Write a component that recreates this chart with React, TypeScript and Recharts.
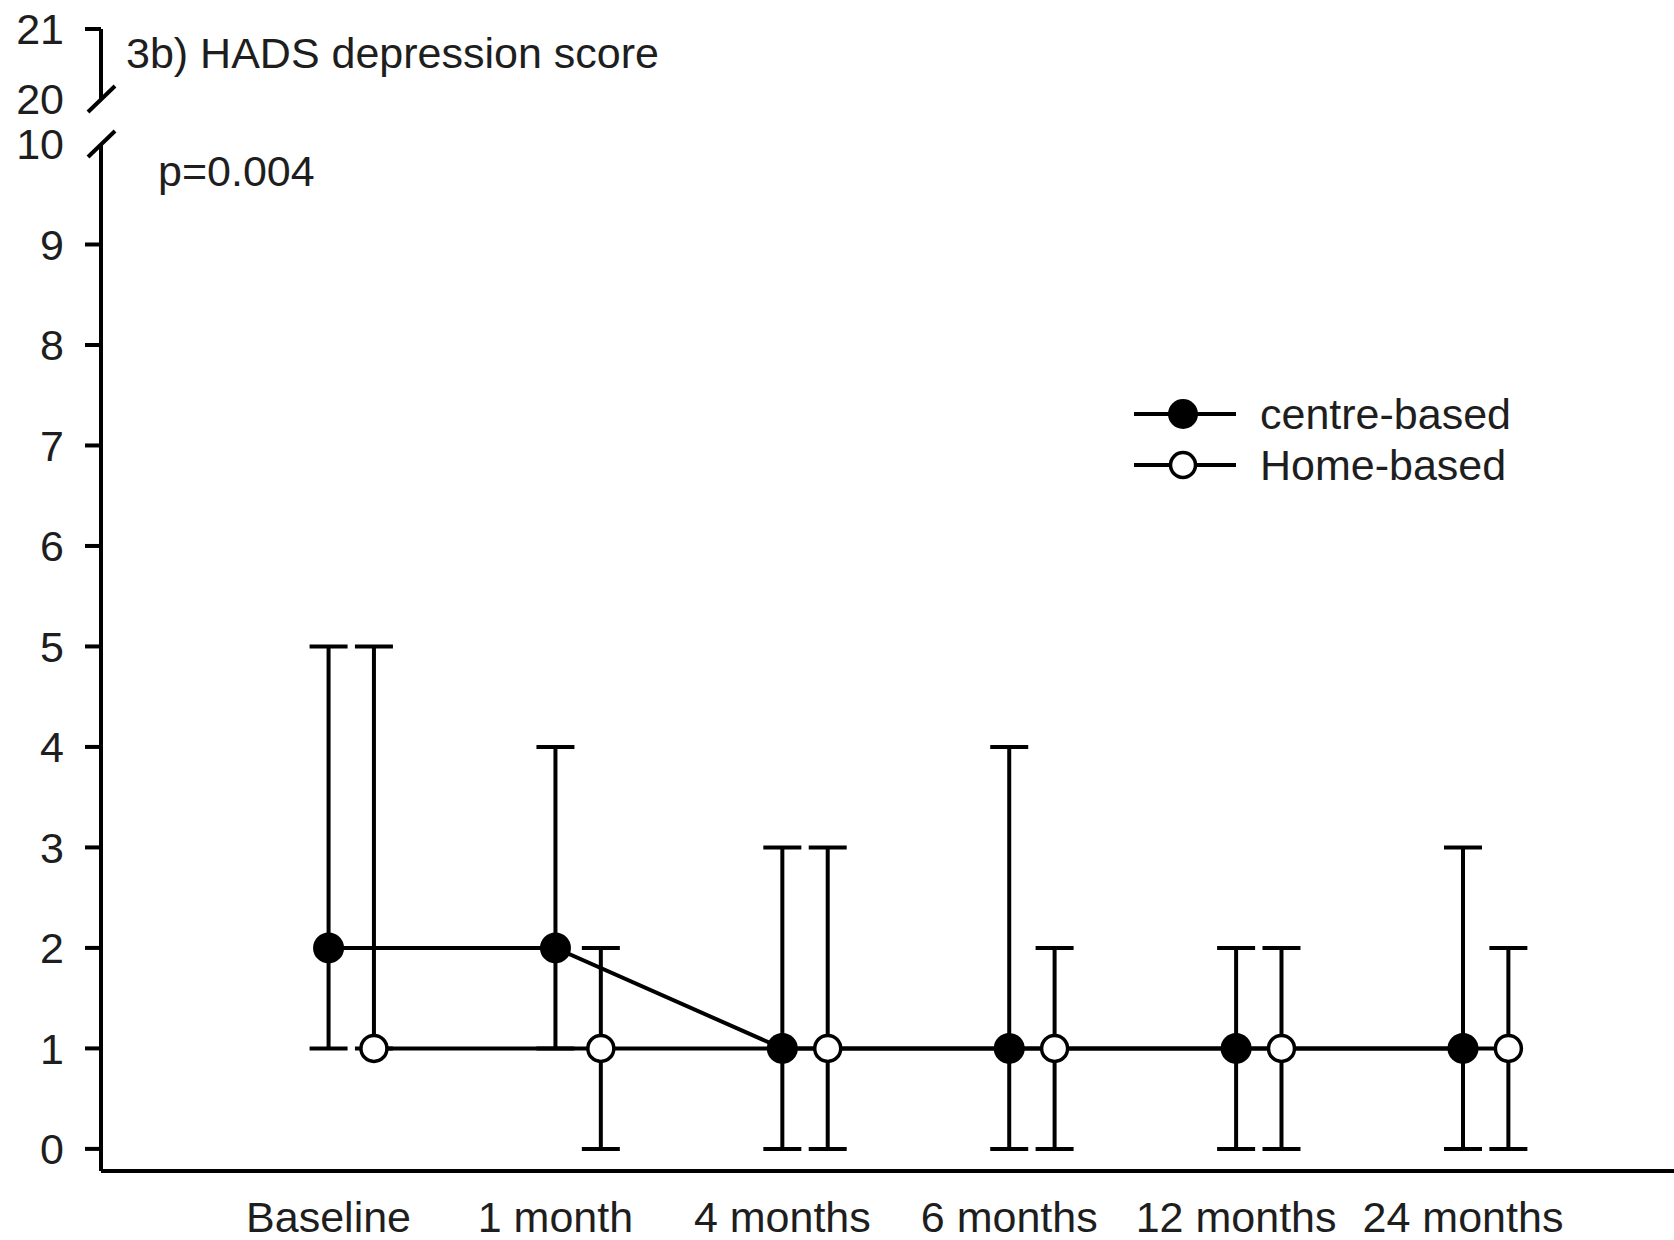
import {
  ComposedChart,
  Scatter,
  ErrorBar,
  XAxis,
  YAxis,
  Legend,
} from 'recharts'

const categories = ['Baseline', '1 month', '4 months', '6 months', '12 months', '24 months']

const centreMedian = [2, 2, 1, 1, 1, 1]
const centreLow = [1, 1, 0, 0, 0, 0]
const centreHigh = [5, 4, 3, 4, 2, 3]

const homeMedian = [1, 1, 1, 1, 1, 1]
const homeLow = [1, 0, 0, 0, 0, 0]
const homeHigh = [5, 2, 3, 2, 2, 2]

const lowerTicks = [0, 1, 2, 3, 4, 5, 6, 7, 8, 9, 10]
const upperTicks = [20, 21]

const seriesOrder = ['centre-based', 'Home-based']

// home-based points sit a little to the right of each time point
const HOME_SHIFT = 0.2

const centreData = categories.map((c, i) => ({
  x: i,
  y: centreMedian[i],
  err: [centreMedian[i] - centreLow[i], centreHigh[i] - centreMedian[i]],
}))

const homeData = categories.map((c, i) => ({
  x: i + HOME_SHIFT,
  y: homeMedian[i],
  err: [homeMedian[i] - homeLow[i], homeHigh[i] - homeMedian[i]],
}))

// placeholder so the upper axis segment gets drawn
const upperData = [{ x: 0.5, y: 20.5 }]

const FONT = '"Liberation Sans", Arial, sans-serif'
const TEXT = '#1e1e1e'
const FS = 43
const AXIS_X = 101
const W = 1674
const SW = 4

function YTick(props: any) {
  const { y, payload, breakAt } = props
  const isBreak = payload.value === breakAt
  return (
    <g>
      {isBreak ? (
        <line x1={AXIS_X - 13} y1={y + 13} x2={AXIS_X + 14} y2={y - 13} stroke="#000" strokeWidth={SW} />
      ) : (
        <line x1={AXIS_X - 16} y1={y} x2={AXIS_X} y2={y} stroke="#000" strokeWidth={SW} />
      )}
      <text
        x={AXIS_X - 37}
        y={y}
        dy="0.36em"
        textAnchor="end"
        fontSize={FS}
        fontFamily={FONT}
        fill={TEXT}
      >
        {payload.value}
      </text>
    </g>
  )
}

function XTick(props: any) {
  const { x, y, payload } = props
  return (
    <text x={x} y={y} dy="0.71em" textAnchor="middle" fontSize={FS} fontFamily={FONT} fill={TEXT}>
      {categories[payload.value]}
    </text>
  )
}

function FilledDot(props: any) {
  const { cx, cy } = props
  return <circle cx={cx} cy={cy} r={15.5} fill="#000" />
}

function OpenDot(props: any) {
  const { cx, cy } = props
  return <circle cx={cx} cy={cy} r={13} fill="#fff" stroke="#000" strokeWidth={3.5} />
}

function NoDot() {
  return <g />
}

function renderLegend(props: any) {
  const items = [...(props.payload || [])].sort(
    (a: any, b: any) => seriesOrder.indexOf(a.value) - seriesOrder.indexOf(b.value)
  )
  return (
    <svg width={420} height={110}>
      {items.map((entry: any, i: number) => {
        const cy = 29 + i * 51
        const filled = entry.value === 'centre-based'
        return (
          <g key={entry.value}>
            <line x1={9} y1={cy} x2={111} y2={cy} stroke="#000" strokeWidth={SW} />
            {filled ? (
              <circle cx={58} cy={cy} r={15} fill="#000" />
            ) : (
              <circle cx={58} cy={cy} r={12.5} fill="#fff" stroke="#000" strokeWidth={3.5} />
            )}
            <text x={135} y={cy} dy="0.36em" fontSize={FS} fontFamily={FONT} fill={TEXT}>
              {entry.value}
            </text>
          </g>
        )
      })}
    </svg>
  )
}

export default function App() {
  return (
    <div style={{ position: 'absolute', left: 0, top: 0, width: W, height: 1240, background: '#fff' }}>
      {/* lower part of the broken axis: 0 - 10 */}
      <div style={{ position: 'absolute', left: 0, top: 0 }}>
        <ComposedChart width={W} height={1240} margin={{ top: 144, right: 0, bottom: 9, left: 40 }}>
          <XAxis
            type="number"
            dataKey="x"
            domain={[-1.003, 5.93]}
            ticks={[0, 1, 2, 3, 4, 5]}
            allowDataOverflow
            height={60}
            tickLine={false}
            tickSize={0}
            tickMargin={30}
            tick={<XTick />}
            axisLine={{ stroke: '#000', strokeWidth: SW }}
          />
          <YAxis
            type="number"
            dataKey="y"
            domain={[-0.22, 10]}
            ticks={lowerTicks}
            allowDataOverflow
            width={61}
            tickLine={false}
            tick={<YTick breakAt={10} />}
            axisLine={{ stroke: '#000', strokeWidth: SW }}
          />
          <Legend
            layout="horizontal"
            verticalAlign="middle"
            align="center"
            content={renderLegend}
            wrapperStyle={{ left: 1125, top: 385, width: 'auto' }}
          />
          <Scatter
            name="centre-based"
            data={centreData}
            fill="#000"
            line={{ stroke: '#000', strokeWidth: SW }}
            lineType="joint"
            shape={<FilledDot />}
            isAnimationActive={false}
          >
            <ErrorBar dataKey="err" direction="y" width={19} stroke="#000" strokeWidth={SW} />
          </Scatter>
          <Scatter
            name="Home-based"
            data={homeData}
            fill="#fff"
            line={{ stroke: '#000', strokeWidth: SW }}
            lineType="joint"
            shape={<OpenDot />}
            isAnimationActive={false}
          >
            <ErrorBar dataKey="err" direction="y" width={19} stroke="#000" strokeWidth={SW} />
          </Scatter>
        </ComposedChart>
      </div>

      {/* upper part of the broken axis: 20 - 21 */}
      <div style={{ position: 'absolute', left: 0, top: 0 }}>
        <ComposedChart width={300} height={140} margin={{ top: 29, right: 0, bottom: 41, left: 40 }}>
          <XAxis type="number" dataKey="x" domain={[0, 1]} hide />
          <YAxis
            type="number"
            dataKey="y"
            domain={[20, 21]}
            ticks={upperTicks}
            width={61}
            tickLine={false}
            tick={<YTick breakAt={20} />}
            axisLine={{ stroke: '#000', strokeWidth: SW }}
          />
          <Scatter data={upperData} shape={<NoDot />} isAnimationActive={false} />
        </ComposedChart>
      </div>

      <div
        style={{
          position: 'absolute',
          left: 126,
          top: 32,
          fontFamily: FONT,
          fontSize: FS,
          lineHeight: 1,
          color: TEXT,
          whiteSpace: 'nowrap',
        }}
      >
        3b) HADS depression score
      </div>
      <div
        style={{
          position: 'absolute',
          left: 158,
          top: 150,
          fontFamily: FONT,
          fontSize: FS,
          lineHeight: 1,
          color: TEXT,
          whiteSpace: 'nowrap',
        }}
      >
        p=0.004
      </div>
    </div>
  )
}
